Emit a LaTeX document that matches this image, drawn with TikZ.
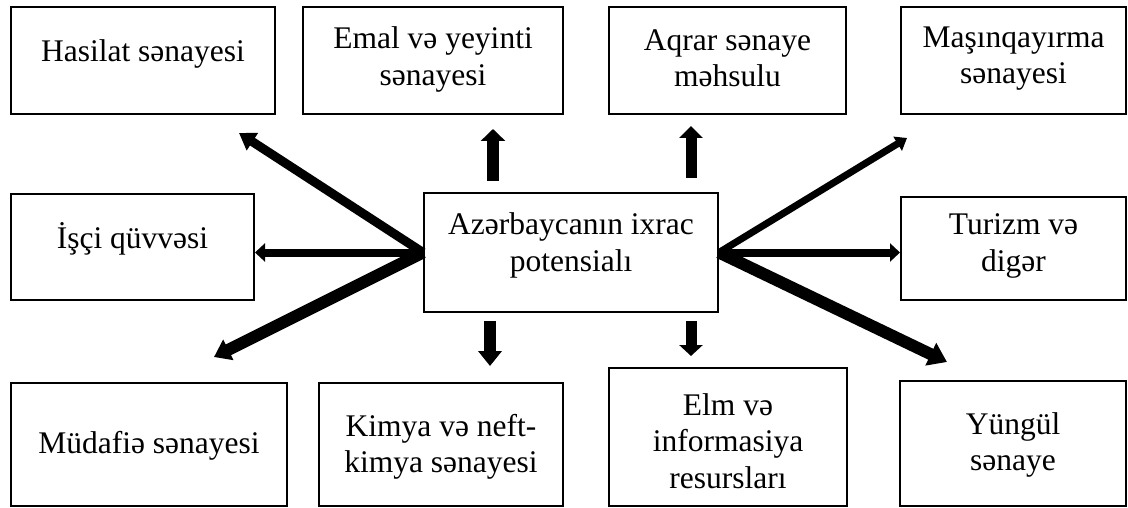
\documentclass[tikz,border=0pt]{standalone}
\usepackage{fontspec}
\setmainfont{Liberation Serif}
\usetikzlibrary{arrows.meta}
\tikzset{
  box/.style={draw,line width=2pt,inner sep=0pt},
  txt/.style={align=center,font=\fontsize{31.5}{36.5}\selectfont},
  flow/.style={line width=#1}
}
\begin{document}
\begin{tikzpicture}[x=1pt,y=-1pt]
            \useasboundingbox (0,0) rectangle (1128,508);
            % qutular (y aşağı)
            \node[box,minimum width=264pt,minimum height=107pt,label={[txt,yshift=7pt]center:Hasilat sənayesi}] (hasil) at (143,60.5) {};
            \node[box,minimum width=260pt,minimum height=107pt,label={[txt,yshift=1pt]center:Emal və yeyinti\\sənayesi}] (emal) at (433,60.5) {};
            \node[box,minimum width=237pt,minimum height=107pt,label={[txt,yshift=2pt]center:Aqrar sənaye\\məhsulu}] (aqrar) at (727.5,60.5) {};
            \node[box,minimum width=225pt,minimum height=107pt,label={[txt,yshift=2pt]center:Maşınqayırma\\sənayesi}] (masin) at (1013.5,60.5) {};
            \node[box,minimum width=243pt,minimum height=106pt,label={[txt,yshift=8pt]center:İşçi qüvvəsi}] (isci) at (132.5,247) {};
            \node[box,minimum width=294pt,minimum height=119pt,label={[txt,yshift=7pt]center:Azərbaycanın ixrac\\potensialı}] (potens) at (571,252.5) {};
            \node[box,minimum width=225pt,minimum height=103pt,label={[txt,yshift=2.5pt]center:Turizm və\\digər}] (turizm) at (1013.5,248.5) {};
            \node[box,minimum width=276pt,minimum height=123pt,label={[txt,yshift=-1.5pt]center:Müdafiə sənayesi}] (mudaf) at (149,444.5) {};
            \node[box,minimum width=244pt,minimum height=123pt,label={[txt,yshift=-2.5pt]center:Kimya və neft-\\kimya sənayesi}] (kimya) at (441,444.5) {};
            \node[box,minimum width=238pt,minimum height=138pt,label={[txt,yshift=-4pt]center:Elm və\\informasiya\\resursları}] (elm) at (728,437) {};
            \node[box,minimum width=226pt,minimum height=125pt,label={[txt,yshift=-1.5pt]center:Yüngül\\sənaye}] (yungul) at (1013,443.5) {};
            % oxların ucları
            \coordinate (ul) at (239,133);
            \coordinate (dl) at (214,357);
            \coordinate (ur) at (907,138);
            \coordinate (dr) at (947,362);
            \coordinate (u1a) at (493,181); \coordinate (u1b) at (493,129);
            \coordinate (u2a) at (691,178); \coordinate (u2b) at (691,126);
            \coordinate (d1a) at (490,321); \coordinate (d1b) at (490,366);
            \coordinate (d2a) at (691,321); \coordinate (d2b) at (691,356);
            % oxlar
            \draw[flow=9pt,-{Triangle[length=16pt,width=20pt]}] (potens.west) -- (ul);
            \draw[flow=8pt,-{Triangle[length=10pt,width=18pt]}] (potens.west) -- (potens.west -| isci.east);
            \draw[flow=12pt,-{Triangle[length=16pt,width=22pt]}] (potens.west) -- (dl);
            \draw[flow=7pt,-{Triangle[length=11pt,width=16pt]}] (potens.east) -- (ur);
            \draw[flow=8pt,-{Triangle[length=10pt,width=18pt]}] (potens.east) -- (potens.east -| turizm.west);
            \draw[flow=12pt,-{Triangle[length=18pt,width=24pt]}] (potens.east) -- (dr);
            \draw[flow=12pt,-{Triangle[length=12pt,width=24pt]}] (u1a) -- (u1b);
            \draw[flow=11pt,-{Triangle[length=12pt,width=23pt]}] (u2a) -- (u2b);
            \draw[flow=12pt,-{Triangle[length=15pt,width=23pt]}] (d1a) -- (d1b);
            \draw[flow=11pt,-{Triangle[length=11pt,width=23pt]}] (d2a) -- (d2b);
\end{tikzpicture}
\end{document}
